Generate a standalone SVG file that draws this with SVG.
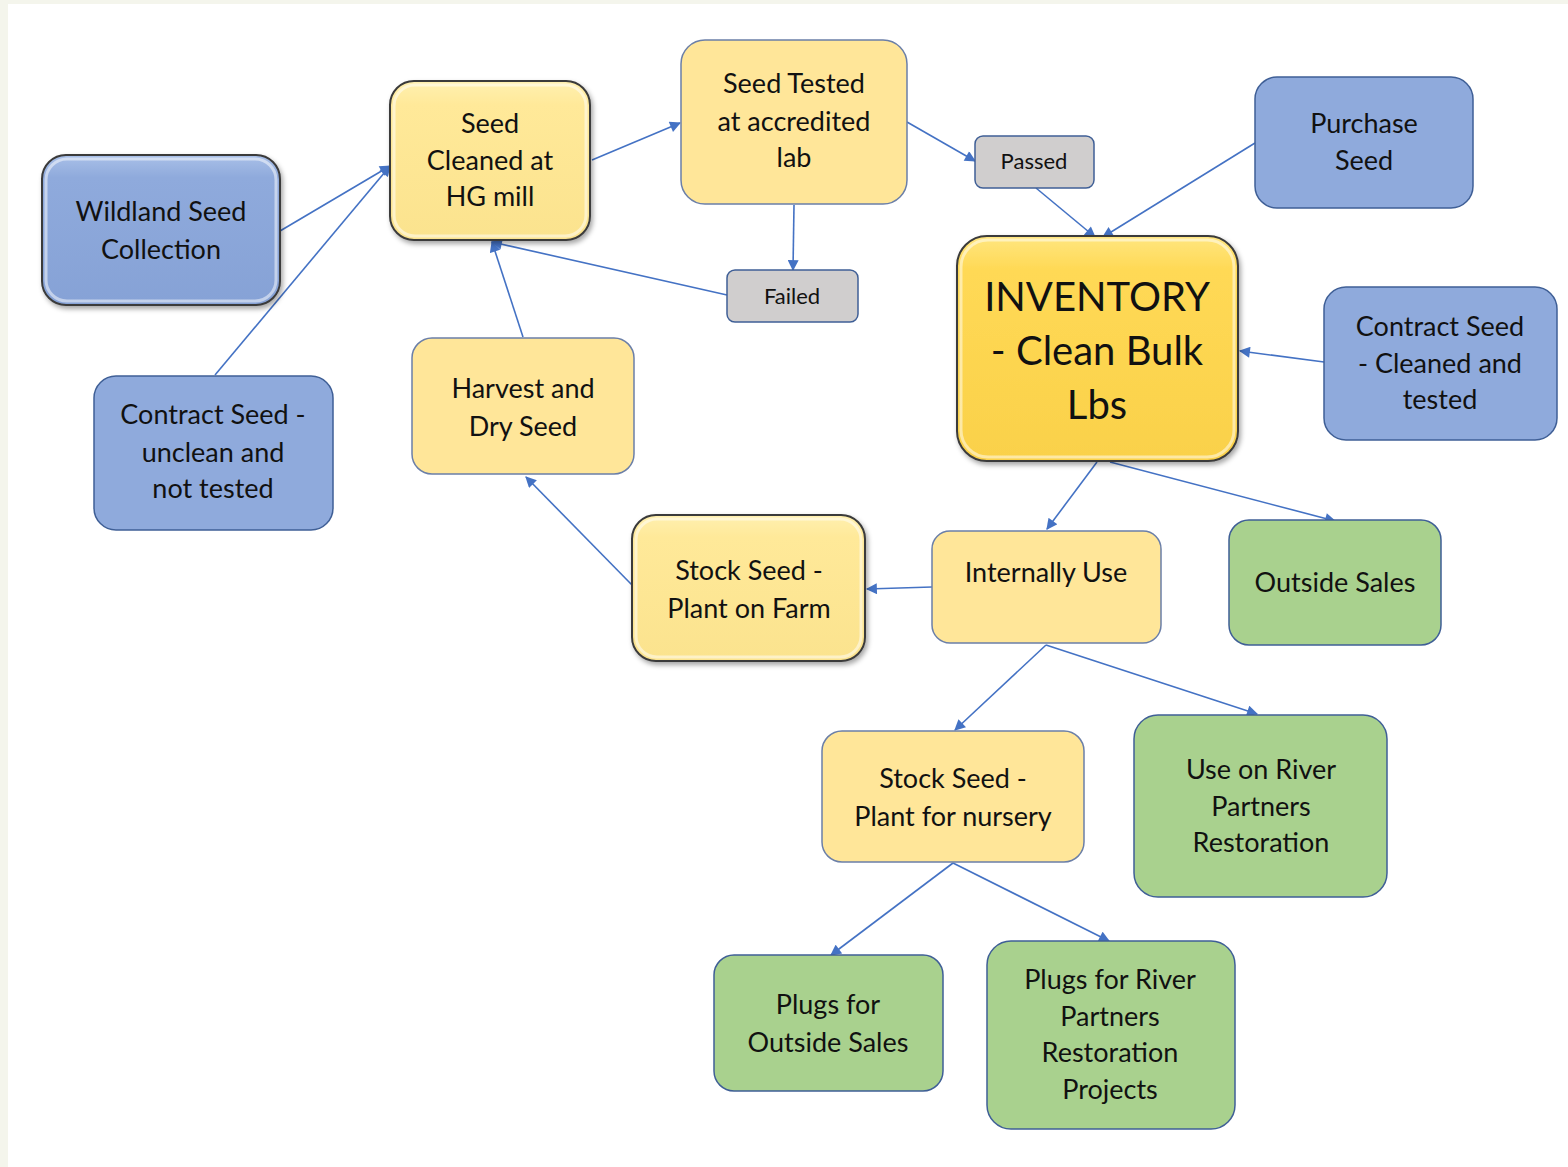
<svg xmlns="http://www.w3.org/2000/svg" width="1568" height="1167" viewBox="0 0 1568 1167">
<style>
text{font-family:Lato,"Open Sans","Liberation Sans",sans-serif;fill:#111;text-anchor:middle}
.t{font-size:27px}
.s{font-size:22px}
.b{font-size:40px}
.blue{fill:#8faadc;stroke:#3f5f96;stroke-width:1.5}
.yel{fill:#ffe699;stroke:#6b7fa8;stroke-width:1.5}
.grn{fill:#a9d18e;stroke:#3f5f96;stroke-width:1.5}
.gry{fill:#d0cece;stroke:#3f5f96;stroke-width:1.5}
.bev{stroke:#3a3a3a;stroke-width:2}
.hl{fill:none;stroke:#fff;stroke-opacity:0.5;stroke-width:3}
.c line{stroke:#4472c4;stroke-width:1.6;marker-end:url(#ah)}
</style>
<defs>
<marker id="ah" viewBox="0 0 10 10" refX="9" refY="5" markerWidth="12" markerHeight="11" markerUnits="userSpaceOnUse" orient="auto"><path d="M0,0 L10,5 L0,10 z" fill="#4472c4"/></marker>
<linearGradient id="gb" x1="0" y1="0" x2="0" y2="1"><stop offset="0" stop-color="#a9c0e8"/><stop offset="0.15" stop-color="#8faadc"/><stop offset="1" stop-color="#86a2d6"/></linearGradient>
<linearGradient id="gy" x1="0" y1="0" x2="0" y2="1"><stop offset="0" stop-color="#fff0b0"/><stop offset="0.15" stop-color="#ffe999"/><stop offset="1" stop-color="#fbe38e"/></linearGradient>
<linearGradient id="gi" x1="0" y1="0" x2="0" y2="1"><stop offset="0" stop-color="#ffe680"/><stop offset="0.15" stop-color="#ffd955"/><stop offset="1" stop-color="#fad14a"/></linearGradient>
<filter id="sh" x="-10%" y="-10%" width="125%" height="125%"><feDropShadow dx="2" dy="3" stdDeviation="2.5" flood-color="#000" flood-opacity="0.35"/></filter>
</defs>
<rect x="0" y="0" width="1568" height="1167" fill="#f4f5ec"/>
<rect x="8" y="4" width="1560" height="1163" fill="#ffffff"/>
<g class="c" id="connectors">
<line x1="280" y1="231" x2="390" y2="166"/>
<line x1="215" y1="375" x2="390" y2="166"/>
<line x1="592" y1="160" x2="680" y2="123"/>
<line x1="907" y1="122" x2="975" y2="161"/>
<line x1="794" y1="205" x2="793" y2="270"/>
<line x1="727" y1="295" x2="492" y2="242"/>
<line x1="523" y1="337" x2="492" y2="242"/>
<line x1="1036" y1="188" x2="1095" y2="237"/>
<line x1="1255" y1="143" x2="1103" y2="237"/>
<line x1="1324" y1="362" x2="1240" y2="351"/>
<line x1="1097" y1="462" x2="1047" y2="529"/>
<line x1="1110" y1="462" x2="1335" y2="521"/>
<line x1="932" y1="587" x2="867" y2="589"/>
<line x1="632" y1="585" x2="526" y2="477"/>
<line x1="1046" y1="645" x2="955" y2="730"/>
<line x1="1046" y1="645" x2="1257" y2="714"/>
<line x1="953" y1="863" x2="831" y2="955"/>
<line x1="953" y1="863" x2="1109" y2="941"/>
</g>
<g id="wildland"><rect x="42" y="155" width="238" height="150" rx="24" fill="url(#gb)" class="bev" filter="url(#sh)"/><rect x="46" y="159" width="230" height="142" rx="21" class="hl"/><text class="t"><tspan x="161" y="221">Wildland Seed</tspan><tspan x="161" y="259">Collection</tspan></text></g>
<g id="contract-unclean"><rect x="94" y="376" width="239" height="154" rx="22" class="blue"/><text class="t"><tspan x="213" y="424">Contract Seed -</tspan><tspan x="213" y="462">unclean and</tspan><tspan x="213" y="498">not tested</tspan></text></g>
<g id="seed-cleaned"><rect x="390" y="81" width="200" height="159" rx="24" fill="url(#gy)" class="bev" filter="url(#sh)"/><rect x="394" y="85" width="192" height="151" rx="21" class="hl"/><text class="t"><tspan x="490" y="133">Seed</tspan><tspan x="490" y="170">Cleaned at</tspan><tspan x="490" y="206">HG mill</tspan></text></g>
<g id="seed-tested"><rect x="681" y="40" width="226" height="164" rx="24" class="yel"/><text class="t"><tspan x="794" y="93">Seed Tested</tspan><tspan x="794" y="131">at accredited</tspan><tspan x="794" y="167">lab</tspan></text></g>
<g id="passed"><rect x="975" y="136" width="119" height="52" rx="8" class="gry"/><text class="s" x="1034" y="169">Passed</text></g>
<g id="failed"><rect x="727" y="270" width="131" height="52" rx="8" class="gry"/><text class="s" x="792" y="304">Failed</text></g>
<g id="purchase"><rect x="1255" y="77" width="218" height="131" rx="22" class="blue"/><text class="t"><tspan x="1364" y="133">Purchase</tspan><tspan x="1364" y="170">Seed</tspan></text></g>
<g id="inventory"><rect x="957" y="236" width="281" height="225" rx="30" fill="url(#gi)" class="bev" filter="url(#sh)"/><rect x="961" y="240" width="273" height="217" rx="27" class="hl"/><text class="b"><tspan x="1097" y="311">INVENTORY</tspan><tspan x="1097" y="365">- Clean Bulk</tspan><tspan x="1097" y="419">Lbs</tspan></text></g>
<g id="contract-cleaned"><rect x="1324" y="287" width="233" height="153" rx="22" class="blue"/><text class="t"><tspan x="1440" y="336">Contract Seed</tspan><tspan x="1440" y="373">- Cleaned and</tspan><tspan x="1440" y="409">tested</tspan></text></g>
<g id="harvest"><rect x="412" y="338" width="222" height="136" rx="20" class="yel"/><text class="t"><tspan x="523" y="398">Harvest and</tspan><tspan x="523" y="436">Dry Seed</tspan></text></g>
<g id="stock-farm"><rect x="632" y="515" width="233" height="146" rx="24" fill="url(#gy)" class="bev" filter="url(#sh)"/><rect x="636" y="519" width="225" height="138" rx="21" class="hl"/><text class="t"><tspan x="749" y="580">Stock Seed -</tspan><tspan x="749" y="618">Plant on Farm</tspan></text></g>
<g id="internally"><rect x="932" y="531" width="229" height="112" rx="18" class="yel"/><text class="t" x="1046" y="582">Internally Use</text></g>
<g id="outside-sales"><rect x="1229" y="520" width="212" height="125" rx="20" class="grn"/><text class="t" x="1335" y="592">Outside Sales</text></g>
<g id="stock-nursery"><rect x="822" y="731" width="262" height="131" rx="20" class="yel"/><text class="t"><tspan x="953" y="788">Stock Seed -</tspan><tspan x="953" y="826">Plant for nursery</tspan></text></g>
<g id="use-river"><rect x="1134" y="715" width="253" height="182" rx="24" class="grn"/><text class="t"><tspan x="1261" y="779">Use on River</tspan><tspan x="1261" y="816">Partners</tspan><tspan x="1261" y="852">Restoration</tspan></text></g>
<g id="plugs-outside"><rect x="714" y="955" width="229" height="136" rx="20" class="grn"/><text class="t"><tspan x="828" y="1014">Plugs for</tspan><tspan x="828" y="1052">Outside Sales</tspan></text></g>
<g id="plugs-river"><rect x="987" y="941" width="248" height="188" rx="24" class="grn"/><text class="t"><tspan x="1110" y="989">Plugs for River</tspan><tspan x="1110" y="1026">Partners</tspan><tspan x="1110" y="1062">Restoration</tspan><tspan x="1110" y="1099">Projects</tspan></text></g>
</svg>
